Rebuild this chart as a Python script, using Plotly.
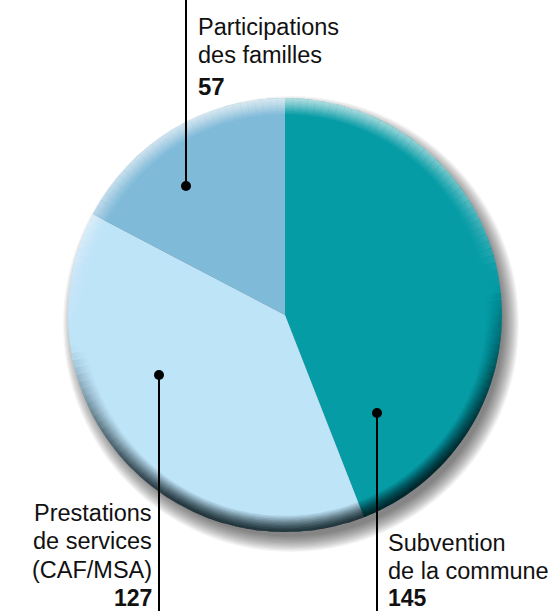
import numpy as np
import plotly.graph_objects as go

# ---- data ----
categories = ["Subvention de la commune", "Prestations de services (CAF/MSA)", "Participations des familles"]
values = [145, 127, 57]
colors = ["#069ca6", "#bee4f8", "#7fbad9"]
label_lines = [["Subvention", "de la commune"], ["Prestations", "de services", "(CAF/MSA)"], ["Participations", "des familles"]]
value_labels = ["145", "127", "57"]

W, H = 551, 611
CX, CY, R = 285, 315, 217

def px(x):
    return x / W

def py(y):
    return 1 - y / H

fig = go.Figure()

dom = dict(x=[px(CX - R), px(CX + R)], y=[py(CY + R), py(CY - R)])

# main pie
fig.add_trace(go.Pie(
    labels=categories, values=values, sort=False, direction="clockwise", rotation=0,
    marker=dict(colors=colors, line=dict(width=0)), textinfo="none", hoverinfo="label+value",
    domain=dom, showlegend=False,
))

# rim shading (decorative): thin rings of angular segments
n_seg = 180
seg_vals = [1] * n_seg
ang = (np.arange(n_seg) + 0.5) * 360 / n_seg
c = np.cos(np.radians(ang - 172))
holes = np.linspace(0.925, 0.99, 10)
for j, hole in enumerate(holes):
    strength = 0.09 + 0.013 * j
    cols = []
    for v in c:
        if v > 0:
            a = strength * min(1.0, 1.3 * v ** 1.2)
            cols.append(f"rgba(0,15,20,{a:.3f})")
        else:
            a = strength * 0.7 * (-v)
            cols.append(f"rgba(255,255,255,{a:.3f})")
    fig.add_trace(go.Pie(
        values=seg_vals, sort=False, direction="clockwise", rotation=0, hole=float(hole),
        marker=dict(colors=cols, line=dict(width=0)), textinfo="none", hoverinfo="skip",
        domain=dom, showlegend=False,
    ))

shapes = []
# soft drop shadow
for k in range(14):
    rr = R + 11 - k * 1.2
    shapes.append(dict(type="circle", xref="paper", yref="paper", layer="below",
                       x0=px(CX + 6 - rr), x1=px(CX + 6 + rr), y0=py(CY + 9 + rr), y1=py(CY + 9 - rr),
                       fillcolor="rgba(0,0,0,0.045)", line=dict(width=0)))

# leader lines with dots
leaders = [((377, 413), 611), ((159, 375), 611), ((186, 186), 0)]
for (dx, dy), yend in leaders:
    shapes.append(dict(type="line", xref="paper", yref="paper", x0=px(dx), x1=px(dx), y0=py(dy), y1=py(yend),
                       line=dict(color="#000000", width=2), layer="above"))
    shapes.append(dict(type="circle", xref="paper", yref="paper", x0=px(dx - 5), x1=px(dx + 5),
                       y0=py(dy + 5), y1=py(dy - 5), fillcolor="#000000", line=dict(width=0), layer="above"))

annotations = []
FS = 23.5
def add_line(text, x, y, anchor, size=FS):
    annotations.append(dict(text=text, x=px(x), y=py(y), xref="paper", yref="paper", xanchor=anchor,
                            yanchor="middle", showarrow=False,
                            font=dict(family="Liberation Sans, Arial, sans-serif", size=size, color="#111111"),
                            borderpad=0))

# Subvention
sub_x = 387
for i, t in enumerate(label_lines[0]):
    add_line(t, sub_x, 543 + i * 28, "left")
add_line("<b>" + value_labels[0] + "</b>", sub_x, 598, "left", size=23)
# Prestations
pre_x = 153
for i, t in enumerate(label_lines[1]):
    add_line(t, pre_x, 513 + i * 28.3, "right")
add_line("<b>" + value_labels[1] + "</b>", pre_x, 598, "right", size=23)
# Participations
par_x = 197
for i, t in enumerate(label_lines[2]):
    add_line(t, par_x, 27 + i * 28.5, "left")
add_line("<b>" + value_labels[2] + "</b>", par_x, 86, "left", size=24)

fig.update_layout(width=W, height=H, margin=dict(l=0, r=0, t=0, b=0), paper_bgcolor="white",
                  plot_bgcolor="white", shapes=shapes, annotations=annotations, showlegend=False)
fig.write_html("out.html", config={"displayModeBar": False},
               post_script="document.body.style.margin='0px';document.body.style.overflow='hidden';")
